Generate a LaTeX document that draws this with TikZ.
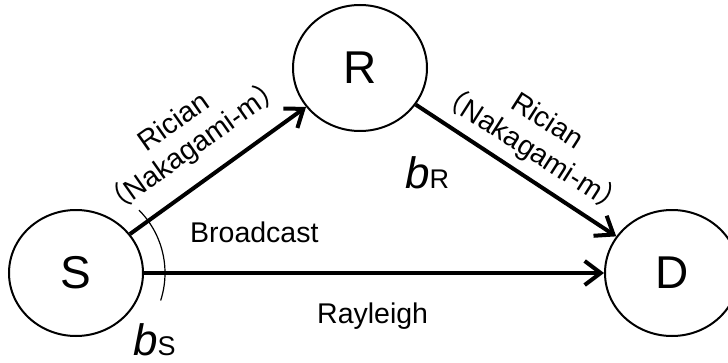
\documentclass[tikz,border=0pt]{standalone}
\usepackage{fontspec}
\setmainfont{Liberation Sans}
\newfontfamily\cjk{Noto Sans CJK SC}
\usetikzlibrary{arrows.meta,shapes.geometric}

\tikzset{
  station/.style={ellipse, draw, line width=2pt, minimum width=134pt, minimum height=126pt,
    inner sep=0pt, font=\fontsize{46}{46}\selectfont},
  link/.style={line width=4pt, -{Straight Barb[length=16pt,width=24pt,line width=4pt]}},
  lbl/.style={font=\fontsize{28.5}{28.5}\selectfont, inner sep=0pt},
}
\newcommand{\bsym}[1]{{\fontsize{44}{44}\selectfont\itshape b}{\fontsize{27}{27}\selectfont #1}}
\newcommand{\nakagami}{{\cjk （}Nakagami-m{\cjk ）}}

\begin{document}
\begin{tikzpicture}[x=1pt,y=1pt]
  \useasboundingbox (0,0) rectangle (728,362);

  % stations
  \node[station] (S) at (76,89) {S};
  \node[station] (R) at (360,294) {R};
  \node[station] (D) at (672,89) {D};

  % links
  \draw[link] (S) -- (R);
  \draw[link] (R) -- (D);
  \draw[link] (S) -- (D);

  % beam arc at the source
  \draw[line width=1.2pt] (S.center) ++(-18:89pt) arc[start angle=-18, end angle=45, radius=89pt];

  % channel labels
  \node[lbl, rotate=35.2] (l1) at (173,241) {Rician};
  \node[lbl, rotate=35.2] (l2) at (193,215) {\nakagami};
  \node[lbl, rotate=-32.6] (l3) at (548,242) {Rician};
  \node[lbl, rotate=-32.6] (l4) at (532,212) {\nakagami};
  \node[lbl, anchor=base west] (bc) at (190,120) {Broadcast};
  \node[lbl, anchor=base west] (ry) at (317,39) {Rayleigh};

  % bandwidth symbols
  \node[inner sep=0pt, anchor=base west] (bR) at (405,174) {\bsym{R}};
  \node[inner sep=0pt, anchor=base west] (bS) at (133,7) {\bsym{S}};
\end{tikzpicture}
\end{document}
